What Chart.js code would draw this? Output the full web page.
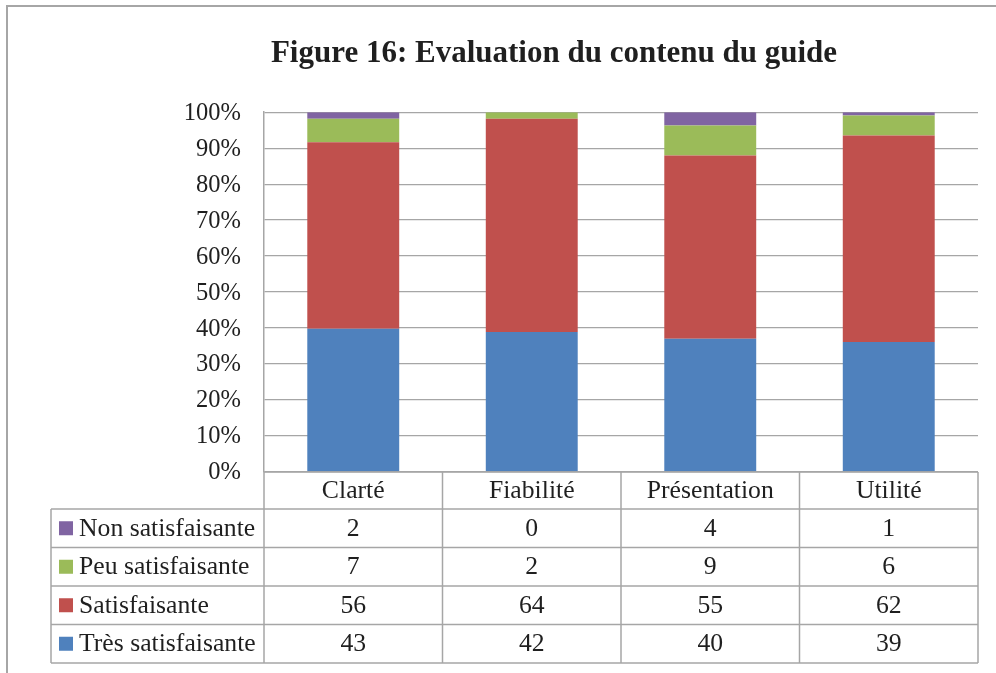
<!DOCTYPE html>
<html>
<head>
<meta charset="utf-8">
<script src="https://cdn.jsdelivr.net/npm/chart.js@4/dist/chart.umd.min.js"></script>
<style>
html,body{margin:0;padding:0;background:#fff;}
#wrap{width:996px;height:673px;position:relative;}
</style>
</head>
<body>
<div id="wrap"><canvas id="c" width="996" height="673"></canvas></div>
<script>
const titleText = 'Figure 16: Evaluation du contenu du guide';
const categories = ['Clarté', 'Fiabilité', 'Présentation', 'Utilité'];
const tresSatisfaisante = [43, 42, 40, 39];
const satisfaisante = [56, 64, 55, 62];
const peuSatisfaisante = [7, 2, 9, 6];
const nonSatisfaisante = [2, 0, 4, 1];
const seriesNames = ['Très satisfaisante', 'Satisfaisante', 'Peu satisfaisante', 'Non satisfaisante'];
const seriesColors = ['#4F81BD', '#C0504D', '#9BBB59', '#8064A2'];
const yTicks = [0, 10, 20, 30, 40, 50, 60, 70, 80, 90, 100];

const seriesValues = [tresSatisfaisante, satisfaisante, peuSatisfaisante, nonSatisfaisante];
const totals = categories.map((_, i) => seriesValues.reduce((s, arr) => s + arr[i], 0));
const toPct = arr => arr.map((v, i) => v / totals[i] * 100);

const FONT = '"Liberation Serif", "Times New Roman", serif';
const GRID = '#A6A6A6';
const TXT = '#1f1f1f';

const tablePlugin = {
  id: 'dataTable',
  afterDraw(chart) {
    const ctx = chart.ctx;
    const a = chart.chartArea;
    const xs = chart.scales.x;
    const n = categories.length;
    const colW = (a.right - a.left) / n;
    const headH = 37, rowH = 38.5;
    const legendLeft = 51;
    const top = a.bottom;
    ctx.save();
    // outer frame
    ctx.strokeStyle = GRID;
    ctx.lineWidth = 2;
    ctx.beginPath();
    ctx.moveTo(7, 1000); ctx.lineTo(7, 6); ctx.lineTo(1200, 6);
    ctx.stroke();

    ctx.lineWidth = 1.5;
    ctx.strokeStyle = GRID;
    const rowsTop = top + headH;
    const bottom = rowsTop + rowH * 4;
    ctx.beginPath();
    ctx.moveTo(a.left, top); ctx.lineTo(a.right, top);
    for (let r = 0; r <= 4; r++) {
      const y = rowsTop + r * rowH;
      ctx.moveTo(legendLeft, y); ctx.lineTo(a.right, y);
    }
    ctx.moveTo(legendLeft, rowsTop); ctx.lineTo(legendLeft, bottom);
    for (let c = 0; c <= n; c++) {
      const x = a.left + c * colW;
      ctx.moveTo(x, top); ctx.lineTo(x, bottom);
    }
    ctx.stroke();

    ctx.fillStyle = TXT;
    ctx.font = '25.7px ' + FONT;
    ctx.textAlign = 'center';
    ctx.textBaseline = 'middle';
    categories.forEach((cat, i) => {
      ctx.fillText(cat, xs.getPixelForValue(i), top + headH / 2 + 1);
    });
    for (let r = 0; r < 4; r++) {
      const s = 3 - r;
      const yc = rowsTop + r * rowH + rowH / 2 + 1;
      ctx.fillStyle = seriesColors[s];
      ctx.fillRect(59, yc - 8, 14, 14);
      ctx.fillStyle = TXT;
      ctx.textAlign = 'left';
      ctx.fillText(seriesNames[s], 79, yc);
      ctx.textAlign = 'center';
      seriesValues[s].forEach((v, i) => {
        ctx.fillText(String(v), xs.getPixelForValue(i), yc);
      });
    }
    ctx.restore();
  }
};

new Chart(document.getElementById('c'), {
  type: 'bar',
  data: {
    labels: categories,
    datasets: seriesValues.map((arr, i) => ({
      label: seriesNames[i],
      data: toPct(arr),
      backgroundColor: seriesColors[i],
      borderWidth: 0,
      categoryPercentage: 1,
      barPercentage: 0.515
    }))
  },
  options: {
    responsive: false,
    animation: false,
    layout: { padding: { left: 130, right: 18, top: 0, bottom: 0 } },
    plugins: {
      legend: { display: false },
      tooltip: { enabled: false },
      title: {
        display: true,
        text: titleText,
        color: TXT,
        font: { family: FONT, size: 31, weight: 'bold' },
        padding: { top: 35, bottom: 40 }
      }
    },
    scales: {
      x: {
        stacked: true,
        grid: { display: false, drawTicks: false },
        border: { display: false },
        ticks: { display: false },
        afterFit: s => { s.height = 201; }
      },
      y: {
        stacked: true,
        min: 0, max: 100,
        afterBuildTicks: s => { s.ticks = yTicks.map(v => ({ value: v })); },
        afterFit: s => { s.width = 134; },
        grid: { color: GRID, lineWidth: 1.3, drawTicks: false },
        border: { display: true, color: GRID, width: 1.5 },
        ticks: {
          padding: 23,
          labelOffset: 1,
          color: TXT,
          font: { family: FONT, size: 24.5 },
          callback: v => v + '%'
        }
      }
    }
  },
  plugins: [tablePlugin]
});
</script>
</body>
</html>
